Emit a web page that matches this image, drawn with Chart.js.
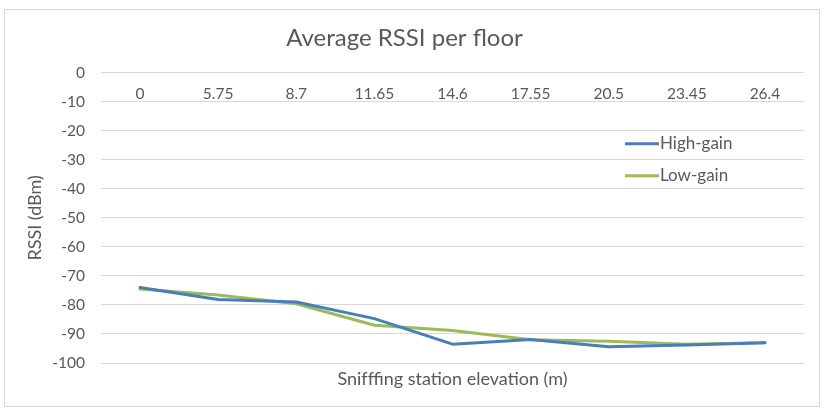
<!DOCTYPE html>
<html>
<head>
<meta charset="utf-8">
<script src="https://cdn.jsdelivr.net/npm/chart.js@4/dist/chart.umd.min.js"></script>
<style>
    body { margin: 0; background: #fff; }
    #wrap {
        position: absolute; left: 4px; top: 9px;
        width: 816px; height: 398px;
        border: 1px solid #d9d9d9; box-sizing: border-box;
    }
</style>
</head>
<body>
<div id="wrap"><canvas id="rssiChart"></canvas></div>
<script>
// Data
const elevations = ['0', '5.75', '8.7', '11.65', '14.6', '17.55', '20.5', '23.45', '26.4'];
const highGain = [-74.0, -78.1, -79.0, -84.7, -93.5, -91.9, -94.4, -93.8, -93.0];
const lowGain = [-74.5, -76.6, -79.6, -87.0, -88.8, -92.0, -92.5, -93.5, -93.0];
const yTicks = { min: -100, max: 0, step: 10 };

const textColor = '#595959';
const gridColor = '#d9d9d9';
const fontFamily = 'Lato, "Open Sans", sans-serif';

// Legend drawn inside the plot area on the right, like the original
const insideLegend = {
    id: 'insideLegend',
    afterDraw(chart) {
        const ctx = chart.ctx;
        const x = chart.chartArea.left + 524;
        const rows = [71, 103];
        ctx.save();
        chart.data.datasets.forEach((ds, i) => {
            const y = chart.chartArea.top + rows[i];
            ctx.strokeStyle = ds.borderColor;
            ctx.lineWidth = 3;
            ctx.beginPath();
            ctx.moveTo(x, y);
            ctx.lineTo(x + 34, y);
            ctx.stroke();
            ctx.fillStyle = textColor;
            ctx.font = '17px ' + fontFamily;
            ctx.textBaseline = 'middle';
            ctx.textAlign = 'left';
            ctx.fillText(ds.label, x + 35, y);
        });
        ctx.restore();
    }
};

const ctx = document.getElementById('rssiChart').getContext('2d');
new Chart(ctx, {
    type: 'line',
    data: {
        labels: elevations,
        datasets: [{
            label: 'High-gain',
            data: highGain,
            borderColor: '#4a7ebb',
            borderWidth: 3,
            pointRadius: 0,
            tension: 0,
            borderCapStyle: 'round',
            borderJoinStyle: 'round',
            fill: false
        }, {
            label: 'Low-gain',
            data: lowGain,
            borderColor: '#9bbb59',
            borderWidth: 3,
            pointRadius: 0,
            tension: 0,
            borderCapStyle: 'round',
            borderJoinStyle: 'round',
            fill: false
        }]
    },
    options: {
        responsive: true,
        maintainAspectRatio: false,
        animation: false,
        layout: { padding: { left: 0, right: 15, top: 0, bottom: 0 } },
        plugins: {
            legend: { display: false },
            tooltip: { enabled: false },
            title: {
                display: true,
                text: 'Average RSSI per floor',
                color: textColor,
                font: { family: fontFamily, size: 24, weight: 'normal', lineHeight: 1.2 },
                padding: { top: 14, bottom: 20 }
            }
        },
        scales: {
            x: {
                position: { y: 0 },
                offset: true,
                grid: { display: false, drawTicks: false },
                border: { display: false },
                ticks: {
                    color: textColor,
                    padding: 12,
                    maxRotation: 0,
                    autoSkip: false,
                    font: { family: fontFamily, size: 15.5 }
                }
            },
            xTitle: {
                type: 'category',
                position: 'bottom',
                grid: { display: false, drawTicks: false },
                border: { display: false },
                ticks: { display: false },
                title: {
                    display: true,
                    text: 'Snifffing station elevation (m)',
                    color: textColor,
                    font: { family: fontFamily, size: 18, lineHeight: 1.2 },
                    padding: { top: 5, bottom: 16 }
                },
                afterFit(scale) { scale.height = 43; }
            },
            y: {
                min: yTicks.min,
                max: yTicks.max,
                grid: { color: gridColor, lineWidth: 1, drawTicks: false },
                border: { display: false },
                ticks: {
                    stepSize: yTicks.step,
                    color: textColor,
                    padding: 16,
                    font: { family: fontFamily, size: 15.5 }
                },
                title: {
                    display: true,
                    text: 'RSSI (dBm)',
                    color: textColor,
                    font: { family: fontFamily, size: 18, lineHeight: 1.2 },
                    padding: { top: 19, bottom: 0 }
                },
                afterFit(scale) { scale.width = 96; }
            }
        }
    },
    plugins: [insideLegend]
});
</script>
</body>
</html>
